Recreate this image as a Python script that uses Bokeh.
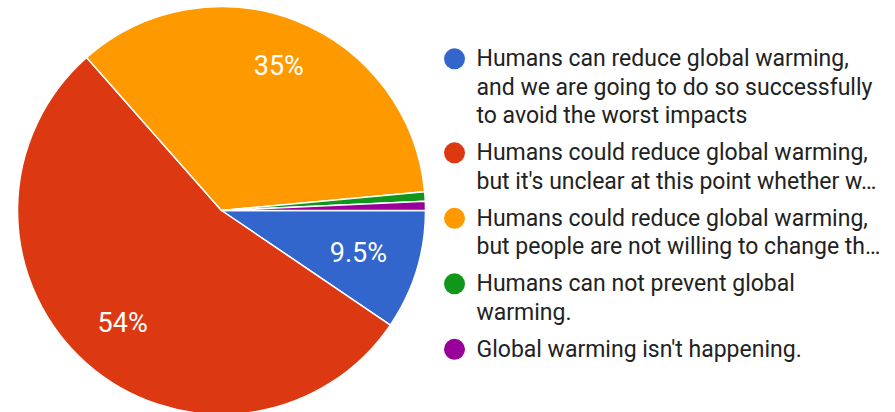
import math

from bokeh.core.properties import value
from bokeh.embed import file_html
from bokeh.models import ColumnDataSource, Range1d
from bokeh.plotting import figure
from bokeh.resources import INLINE

# Survey answers (legend wording, wrapped / truncated as shown)
legend_lines = [
    ["Humans can reduce global warming,",
     "and we are going to do so successfully",
     "to avoid the worst impacts"],
    ["Humans could reduce global warming,",
     "but it's unclear at this point whether w\u2026"],
    ["Humans could reduce global warming,",
     "but people are not willing to change th\u2026"],
    ["Humans can not prevent global",
     "warming."],
    ["Global warming isn't happening."],
]
responses = [13, 74, 48, 1, 1]
colors = ["#3366cc", "#dc3912", "#ff9900", "#109618", "#990099"]

W, H = 895, 412
FONT = "Roboto"

p = figure(width=W, height=H, output_backend="svg", toolbar_location=None,
           x_axis_type=None, y_axis_type=None, min_border=0,
           x_range=Range1d(0, W), y_range=Range1d(0, H))
p.grid.visible = False
p.outline_line_color = None
p.background_fill_color = "white"
p.border_fill_color = "white"

# Pie geometry in screen pixels (y measured from the bottom)
cx, cy, R = 221, H - 210, 204
total = sum(responses)
fractions = [v / total for v in responses]
cum = [0.0]
for f in fractions:
    cum.append(cum[-1] + f)

starts = [-c * 2 * math.pi for c in cum[:-1]]
ends = [-c * 2 * math.pi for c in cum[1:]]
pie = ColumnDataSource(dict(start=starts, end=ends, color=colors))
p.wedge(x=cx, y=cy, radius=R, start_angle="start", end_angle="end",
        direction="clock", fill_color="color", line_color="white",
        line_width=1.5, source=pie)

# Percentage labels: each label box is pushed out along the slice's
# mid-angle until its outer edge reaches a fixed radius.
label_px = 27
glyph_em = {".": 0.264, "%": 0.733}
outer = 0.85 * R
lx, ly, lt = [], [], []
for i, f in enumerate(fractions):
    if f < 0.05:
        continue
    txt = f"{f * 100:.2g}%"
    half_w = sum(glyph_em.get(c, 0.562) for c in txt) * label_px / 2
    half_h = 0.36 * label_px
    mid = -(cum[i] + f / 2) * 2 * math.pi
    r = outer - (half_w * abs(math.cos(mid)) + half_h * abs(math.sin(mid)))
    lx.append(cx + r * math.cos(mid))
    ly.append(cy + r * math.sin(mid))
    lt.append(txt)
p.text(x=lx, y=ly, text=lt, text_color="white", text_font=value(FONT),
       text_font_size=f"{label_px}px", text_align="center",
       text_baseline="middle")

# Legend: coloured dot plus wrapped text lines
line_h = 28.5
item_gap = 8.5
dot_x, text_x = 454, 476
top = 58.3
dx, dy, tx, ty, tt = [], [], [], [], []
for lines in legend_lines:
    dx.append(dot_x)
    dy.append(H - top)
    for j, line in enumerate(lines):
        tx.append(text_x)
        ty.append(H - (top + j * line_h))
        tt.append(line)
    top += len(lines) * line_h + item_gap

p.circle(x=dx, y=dy, radius=10.5, fill_color=colors, line_color=None)
p.text(x=tx, y=ty, text=tt, text_color="#222222", text_font=value(FONT),
       text_font_size="23px", text_align="left", text_baseline="middle")

open("out.html", "w").write(file_html(p, INLINE))
